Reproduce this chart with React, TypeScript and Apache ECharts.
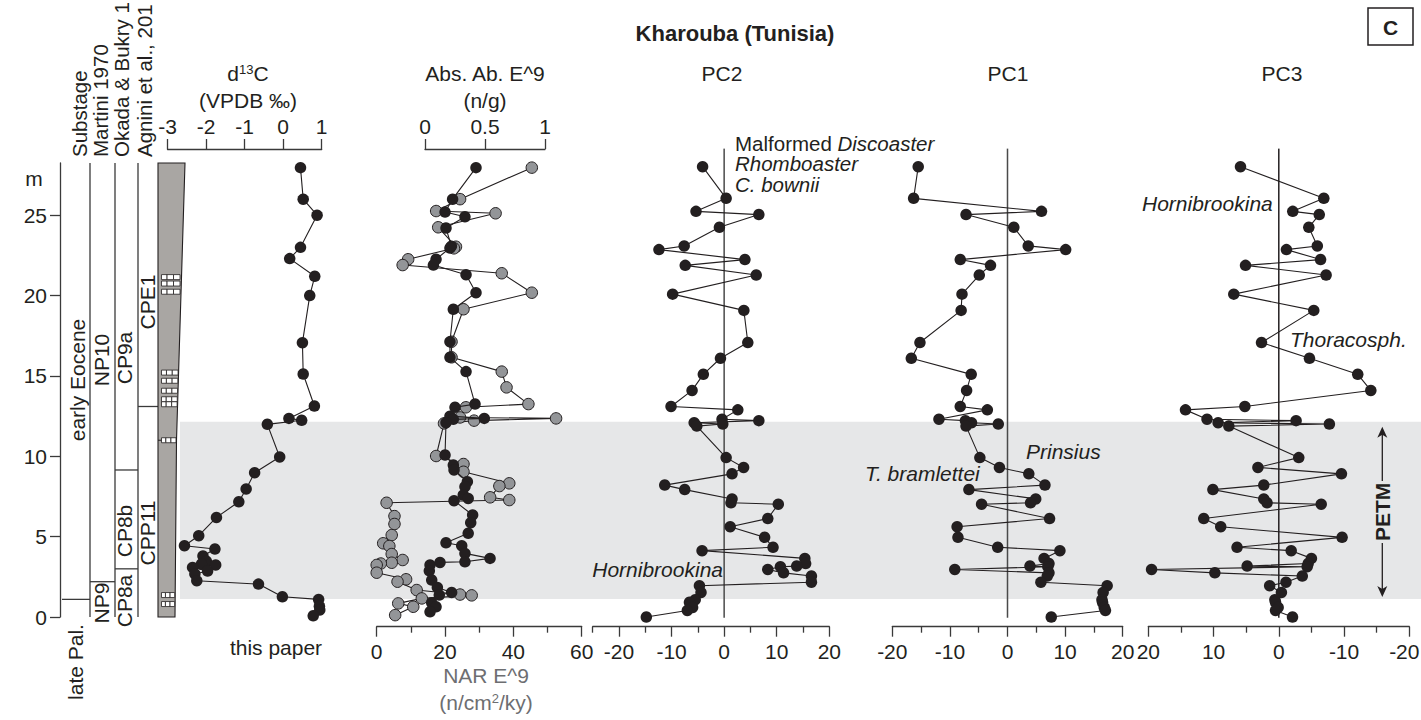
import React, { useEffect, useRef } from 'react';
import * as echarts from 'echarts';

const W = 1421;
const H = 720;
const FONT = "'Liberation Sans', Arial, Helvetica, sans-serif";
const INK = '#231f20';
const AXIS = '#3a3a3a';
const FS = 21;

// ---------- data ----------
const d13cDepth = [27.96, 26.0, 25.0, 23.0, 22.3, 21.2, 20.0, 17.07, 15.12, 13.13, 12.36, 12.24, 11.99, 9.96, 8.98, 7.97, 7.17, 6.2, 5.06, 4.44, 4.23, 3.8, 3.47, 3.3, 3.24, 3.09, 2.86, 2.68, 2.26, 2.05, 1.26, 1.1, 0.68, 0.44, 0.08];
const d13cValue = [0.45, 0.52, 0.88, 0.45, 0.17, 0.82, 0.69, 0.5, 0.52, 0.81, 0.15, 0.48, -0.41, -0.09, -0.74, -0.96, -1.15, -1.73, -2.19, -2.56, -1.77, -2.08, -1.99, -2.12, -1.75, -2.35, -1.96, -2.29, -2.24, -0.64, -0.02, 0.92, 0.94, 0.95, 0.78];

const narDepth = [27.96, 26.0, 25.26, 25.12, 24.25, 23.04, 22.94, 22.26, 21.9, 21.39, 20.18, 19.15, 17.13, 16.16, 15.27, 14.29, 13.25, 13.05, 12.42, 12.36, 12.22, 12.05, 10.02, 9.52, 9.04, 8.32, 8.15, 7.45, 7.28, 7.11, 6.28, 5.79, 5.1, 4.59, 4.42, 3.92, 3.55, 3.38, 3.33, 3.24, 2.76, 2.35, 2.2, 1.68, 1.4, 1.35, 1.16, 0.85, 0.64, 0.12];
const narValue = [45.4, 24.4, 17.4, 34.8, 18.0, 23.2, 22.6, 9.2, 7.6, 36.6, 45.4, 25.4, 21.9, 21.9, 36.6, 38.0, 44.4, 26.1, 24.4, 52.5, 28.5, 19.7, 17.4, 25.4, 25.4, 38.8, 35.9, 33.2, 38.8, 2.9, 5.2, 5.2, 4.4, 1.9, 3.7, 4.4, 7.6, 4.4, 1.2, 0, 0, 8.6, 6.1, 11.7, 24.4, 27.8, 13.2, 6.3, 10.7, 5.4];

const absDepth = [27.96, 26.0, 25.2, 24.9, 24.2, 23.07, 22.96, 22.26, 21.9, 21.3, 20.18, 19.15, 17.13, 16.16, 15.27, 13.25, 13.05, 12.5, 12.36, 12.3, 12.09, 10.08, 9.46, 9.15, 8.42, 8.11, 7.6, 7.38, 7.24, 6.35, 5.87, 5.21, 4.62, 4.44, 3.96, 3.65, 3.44, 3.4, 3.24, 2.88, 2.3, 1.84, 1.53, 1.37, 0.89, 0.64, 0.33];
const absValue = [0.425, 0.23, 0.167, 0.333, 0.175, 0.22, 0.208, 0.092, 0.07, 0.342, 0.425, 0.236, 0.208, 0.208, 0.342, 0.417, 0.25, 0.208, 0.494, 0.236, 0.175, 0.167, 0.236, 0.242, 0.353, 0.333, 0.319, 0.36, 0.242, 0.397, 0.381, 0.36, 0.175, 0.306, 0.333, 0.542, 0.333, 0.125, 0.042, 0.036, 0.056, 0.103, 0.222, 0.119, 0.056, 0.092, 0.042];

const pcDepth = [28.02, 26.05, 25.24, 25.04, 24.25, 23.09, 22.86, 22.24, 21.88, 21.28, 20.09, 19.08, 17.08, 16.1, 15.1, 14.1, 13.1, 12.89, 12.31, 12.22, 12.09, 12.01, 11.88, 9.92, 9.31, 8.91, 8.21, 7.93, 7.35, 7.11, 7.02, 6.13, 5.62, 4.96, 4.34, 4.13, 3.65, 3.33, 3.17, 3.13, 2.96, 2.75, 2.55, 2.17, 1.95, 1.53, 1.08, 0.92, 0.6, 0.41, 0.0];
const pc2 = [-4.1, 0.38, -5.35, 6.6, -0.9, -7.6, -12.4, 3.95, -7.4, 6.1, -9.8, 3.75, 4.5, -0.7, -3.96, -6.1, -10.1, 2.6, -0.4, 6.6, -5.7, -0.26, -5.2, 0.38, 3.7, 1.5, -11.3, -7.5, 1.5, 1.3, 10.3, 8.3, 1.15, 7.7, 9.3, -4.2, 15.35, 15.5, 13.8, 10.7, 8.3, 11.3, 16.6, 16.6, -4.7, -4.4, -5.5, -6.6, -6.0, -7.0, -14.8];
const pc1 = [-15.5, -16.3, 5.9, -7.2, 1.1, 3.6, 10.1, -8.2, -2.95, -4.9, -7.9, -8.05, -15.2, -16.7, -6.3, -7.1, -8.2, -3.5, -11.9, -7.3, -6.25, -1.6, -7.2, -4.8, -1.4, 3.7, 6.5, -6.7, 4.9, 4.0, -4.5, 7.3, -8.75, -8.6, -1.7, 9.1, 6.35, 7.2, 3.9, 7.0, -9.15, 7.2, 6.9, 5.8, 17.3, 16.6, 16.4, 16.5, 16.8, 17.0, 7.6];
const pc3 = [5.87, -6.9, -2.14, -6.2, -4.6, -5.9, -1.17, -6.4, 5.1, -7.25, 6.9, -5.36, 2.65, -4.7, -12.1, -14.1, 5.2, 14.3, 11.0, -2.65, 9.3, -7.75, 7.66, -3.06, 3.2, -9.6, 2.3, 10.1, 2.3, 1.8, -6.5, 11.5, 8.9, -9.7, 6.4, -1.9, -5.0, -4.5, 4.85, -4.35, 19.5, 9.8, -3.6, -1.1, 1.4, -0.4, 0.6, 0.5, 0.1, 0.5, -2.1];

const depthTicks = [0, 5, 10, 15, 20, 25];
const pcTicks = [-20, -10, 0, 10, 20];
const pc2MinorTicks = [-25, -15, -5, 5, 15];

// stratigraphy (m)
const sectionTop = 28.25;
const petmTop = 12.15;
const petmBase = 1.12;
const substageBounds = [1.1];
const martiniBounds = [2.2];
const okadaBounds = [3.0, 9.15];
const agniniBounds = [13.1];
const bedDepths = [21.15, 20.75, 20.24, 15.21, 14.7, 14.08, 13.55, 13.24, 11.0, 1.37, 0.81];

// ---------- layout ----------
const DEPTH_MIN = -0.6;
const DEPTH_MAX = 29.12;
const GRID_TOP = 149;
const GRID_BOTTOM_Y = 626.7;
const GRID_H = GRID_BOTTOM_Y - GRID_TOP;
const yOf = (d: number) => GRID_TOP + ((DEPTH_MAX - d) / (DEPTH_MAX - DEPTH_MIN)) * GRID_H;

const zip = (xs: number[], ys: number[]) => xs.map((x, i) => [x, ys[i]]);

const lineStyle = { color: AXIS, width: 1.3 };
const labelBase = { color: INK, fontSize: FS, fontFamily: FONT };

function grid(left: number, width: number, top = GRID_TOP, height = GRID_H) {
  return { left, width, top, height, containLabel: false, outerBoundsMode: 'none' };
}

function dataSeries(xi: number, yi: number, data: number[][], gray = false) {
  return {
    type: 'line',
    xAxisIndex: xi,
    yAxisIndex: yi,
    data,
    symbol: 'circle',
    symbolSize: 11.5,
    clip: false,
    silent: true,
    z: gray ? 3 : 4,
    lineStyle: { color: INK, width: 1.1 },
    itemStyle: gray ? { color: '#939598', borderColor: INK, borderWidth: 1 } : { color: INK },
    emphasis: { disabled: true },
  };
}

function zeroLine(xi: number, yi: number, color = '#4a4a4a') {
  return {
    type: 'line',
    xAxisIndex: xi,
    yAxisIndex: yi,
    data: [[0, -0.05], [0, 29.15]],
    symbol: 'none',
    silent: true,
    z: 2,
    lineStyle: { color, width: 1.5 },
  };
}

function text(x: number, y: number, t: string, extra: any = {}, rotation = 0) {
  return {
    type: 'text',
    x,
    y,
    rotation,
    silent: true,
    z: 20,
    style: {
      text: t,
      fontFamily: FONT,
      fontSize: FS,
      fill: INK,
      align: 'center',
      verticalAlign: 'middle',
      ...extra,
    },
  };
}

const richBase = {
  n: { fontFamily: FONT, fontSize: FS, fill: INK, color: INK },
  i: { fontFamily: FONT, fontSize: FS, fontStyle: 'italic', fill: INK, color: INK },
  s: { fontFamily: FONT, fontSize: 13, verticalAlign: 'top', fill: INK, color: INK },
};
const richNote = {
  n: { fontFamily: FONT, fontSize: 20.5, fill: INK, color: INK },
  i: { fontFamily: FONT, fontSize: 20.5, fontStyle: 'italic', fill: INK, color: INK },
};

function buildGraphic() {
  const g: any[] = [];
  // PETM band
  g.push({
    type: 'rect',
    z: -10,
    silent: true,
    shape: { x: 180, y: yOf(petmTop), width: W - 180, height: yOf(petmBase) - yOf(petmTop) },
    style: { fill: '#e6e7e8' },
  });

  const yTop = yOf(sectionTop);
  const y0 = yOf(0);
  // column dividers
  [90, 115, 138].forEach((x) =>
    g.push({ type: 'line', silent: true, z: 5, shape: { x1: x, y1: yTop, x2: x, y2: y0 }, style: { stroke: AXIS, lineWidth: 1.3 } })
  );
  const hLine = (x1: number, x2: number, d: number) =>
    g.push({ type: 'line', silent: true, z: 5, shape: { x1, y1: yOf(d), x2, y2: yOf(d) }, style: { stroke: AXIS, lineWidth: 1.3 } });
  substageBounds.forEach((d) => hLine(62, 90, d));
  martiniBounds.forEach((d) => hLine(90, 115, d));
  okadaBounds.forEach((d) => hLine(115, 138, d));
  agniniBounds.forEach((d) => hLine(138, 158, d));

  // lithology column
  const rightAt = (d: number) => (d >= 11 ? 176.5 + ((d - 11) / (sectionTop - 11)) * (185 - 176.5) : 175 + (d / 11) * 1.5);
  g.push({
    type: 'polygon',
    silent: true,
    z: 5,
    shape: { points: [[158, yTop], [185, yTop], [rightAt(11), yOf(11)], [175, y0], [158, y0]] },
    style: { fill: '#a9a6a3', stroke: INK, lineWidth: 1.1 },
  });
  g.push({ type: 'line', silent: true, z: 6, shape: { x1: 158, y1: yOf(11), x2: rightAt(11), y2: yOf(11) }, style: { stroke: INK, lineWidth: 1 } });
  bedDepths.forEach((d) => {
    const x1 = 161.5;
    const x2 = Math.min(rightAt(d) - 0.5, 180);
    const w = x2 - x1;
    const yy = yOf(d) - 2.5;
    const cuts = [0, 0.3, 0.65, 1];
    for (let k = 0; k < 3; k++) {
      g.push({
        type: 'rect',
        silent: true,
        z: 7,
        shape: { x: x1 + cuts[k] * w, y: yy, width: (cuts[k + 1] - cuts[k]) * w, height: 5 },
        style: { fill: '#ffffff', stroke: INK, lineWidth: 0.8 },
      });
    }
  });

  // column headers (vertical, as far as they are visible)
  const R = Math.PI / 2;
  g.push(text(79, 157, 'Substage', { align: 'left', fontSize: 20.5 }, R));
  g.push(text(100.5, 157, 'Martini 1970', { align: 'left', fontSize: 20.5 }, R));
  g.push(text(121.5, 157, 'Okada & Bukry 1', { align: 'left', fontSize: 20.5 }, R));
  g.push(text(144, 157, 'Agnini et al., 201', { align: 'left', fontSize: 20.5 }, R));
  // zone labels
  g.push(text(77, 380, 'early Eocene', {}, R));
  g.push(text(101, 360, 'NP10', {}, R));
  g.push(text(124, 358, 'CP9a', {}, R));
  g.push(text(147, 302, 'CPE1', {}, R));
  g.push(text(124, 531, 'CP8b', {}, R));
  g.push(text(147, 533, 'CPP11', {}, R));
  g.push(text(101, 603, 'NP9', {}, R));
  g.push(text(124, 601, 'CP8a', {}, R));
  g.push(text(75, 662, 'late Pal.', {}, R));
  g.push(text(34, 178, 'm'));

  // panel titles
  g.push(text(735, 33, 'Kharouba (Tunisia)', { fontWeight: 'bold', fontSize: 22 }));
  g.push({ type: 'rect', silent: true, z: 20, shape: { x: 1368, y: 8, width: 45, height: 37 }, style: { fill: '#fff', stroke: INK, lineWidth: 1.5 } });
  g.push(text(1390.5, 27, 'C', { fontWeight: 'bold', fontSize: 21 }));
  g.push(text(248, 73, '{n|d}{s|13}{n|C}', { rich: richBase }));
  g.push(text(248, 100, '(VPDB ‰)'));
  g.push(text(485, 73, 'Abs. Ab. E^9'));
  g.push(text(485, 100, '(n/g)'));
  g.push(text(722, 73, 'PC2'));
  g.push(text(1008, 73, 'PC1'));
  g.push(text(1282, 73, 'PC3'));
  const grayRich = {
    n: { fontFamily: FONT, fontSize: FS, fill: '#6d6e71', color: '#6d6e71' },
    s: { fontFamily: FONT, fontSize: 13, verticalAlign: 'top', fill: '#6d6e71', color: '#6d6e71' },
  };
  g.push(text(486, 675, 'NAR E^9', { fill: '#6d6e71' }));
  g.push(text(486, 702, '{n|(n/cm}{s|2}{n|/ky)}', { rich: grayRich }));
  g.push(text(276, 647, 'this paper'));

  // annotations
  g.push(text(735, 143, '{n|Malformed }{i|Discoaster}', { align: 'left', rich: richNote }));
  g.push(text(735, 163.75, 'Rhomboaster', { align: 'left', fontStyle: 'italic', fontSize: 20.5 }));
  g.push(text(735, 184.5, 'C. bownii', { align: 'left', fontStyle: 'italic', fontSize: 20.5 }));
  g.push(text(723, 569, 'Hornibrookina', { align: 'right', fontStyle: 'italic' }));
  g.push(text(865, 473, 'T. bramlettei', { align: 'left', fontStyle: 'italic' }));
  g.push(text(1026, 451, 'Prinsius', { align: 'left', fontStyle: 'italic' }));
  g.push(text(1142, 203, 'Hornibrookina', { align: 'left', fontStyle: 'italic' }));
  g.push(text(1290, 339, 'Thoracosph.', { align: 'left', fontStyle: 'italic' }));

  // PETM arrow
  const ax = 1382.3;
  const aTop = yOf(petmTop) + 5;
  const aBot = yOf(petmBase) - 2;
  const mid = (aTop + aBot) / 2;
  g.push({ type: 'line', silent: true, z: 20, shape: { x1: ax, y1: aTop + 4, x2: ax, y2: mid - 31 }, style: { stroke: INK, lineWidth: 1.3 } });
  g.push({ type: 'line', silent: true, z: 20, shape: { x1: ax, y1: mid + 31, x2: ax, y2: aBot - 4 }, style: { stroke: INK, lineWidth: 1.3 } });
  g.push({ type: 'polygon', silent: true, z: 20, shape: { points: [[ax, aTop], [ax - 5, aTop + 11], [ax, aTop + 8], [ax + 5, aTop + 11]] }, style: { fill: INK } });
  g.push({ type: 'polygon', silent: true, z: 20, shape: { points: [[ax, aBot], [ax - 5, aBot - 11], [ax, aBot - 8], [ax + 5, aBot - 11]] }, style: { fill: INK } });
  g.push(text(ax, mid, 'PETM', { fontWeight: 'bold' }, R));
  return g;
}

function buildOption() {
  const commonX = {
    type: 'value',
    splitLine: { show: false },
    axisLine: { show: true, onZero: false, lineStyle },
    axisTick: { show: true, length: 10, lineStyle },
    axisLabel: { ...labelBase, margin: 14 },
  };
  const hiddenY = (gi: number) => ({ gridIndex: gi, type: 'value', min: DEPTH_MIN, max: DEPTH_MAX, show: false, axisLine: { onZero: false } });
  return {
    animation: false,
    backgroundColor: '#ffffff',
    grid: [
      grid(60, 10, yOf(sectionTop), yOf(0) - yOf(sectionTop)), // 0 depth axis
      grid(167.5, 154.2), // 1 d13C
      grid(376.7, 205), // 2 NAR
      grid(425, 120), // 3 Abs
      grid(592.7, 236.6), // 4 PC2
      grid(892.3, 230.4), // 5 PC1
      grid(1148.3, 261), // 6 PC3
      grid(592.7, 236.6), // 7 PC2 minor ticks
    ],
    xAxis: [
      { gridIndex: 0, type: 'value', show: false, min: 0, max: 1, axisLine: { onZero: false } },
      { ...commonX, gridIndex: 1, position: 'top', min: -3, max: 1, interval: 1, axisLabel: { ...labelBase, margin: 12 } },
      {
        ...commonX,
        gridIndex: 2,
        position: 'bottom',
        min: 0,
        max: 60,
        interval: 20,
        minorTick: { show: true, splitNumber: 2, length: 6, lineStyle },
      },
      { ...commonX, gridIndex: 3, position: 'top', min: 0, max: 1, interval: 0.5, axisLabel: { ...labelBase, margin: 12 } },
      {
        ...commonX,
        gridIndex: 4,
        position: 'bottom',
        min: -25,
        max: 20,
        axisTick: { show: true, length: 10, lineStyle, customValues: pcTicks },
        axisLabel: { ...labelBase, margin: 14, customValues: pcTicks },
      },
      {
        ...commonX,
        gridIndex: 5,
        position: 'bottom',
        min: -20,
        max: 20,
        interval: 10,
        minorTick: { show: true, splitNumber: 2, length: 6, lineStyle },
      },
      {
        ...commonX,
        gridIndex: 6,
        position: 'bottom',
        min: -20,
        max: 20,
        interval: 10,
        inverse: true,
        minorTick: { show: true, splitNumber: 2, length: 6, lineStyle },
        axisLabel: {
          ...labelBase,
          margin: 14,
          formatter: (v: number) => (v === -20 ? '{r|-20}' : String(v)),
          rich: { r: { ...labelBase, padding: [0, 10, 0, 0] } },
        },
      },
      {
        ...commonX,
        gridIndex: 7,
        position: 'bottom',
        min: -25,
        max: 20,
        axisLine: { show: false, onZero: false },
        axisTick: { show: true, length: 6, lineStyle, customValues: pc2MinorTicks },
        axisLabel: { show: false },
      },
    ],
    yAxis: [
      {
        gridIndex: 0,
        type: 'value',
        position: 'left',
        min: 0,
        max: sectionTop,
        splitLine: { show: false },
        axisLine: { show: true, onZero: false, lineStyle },
        axisTick: { show: true, length: 10, lineStyle, customValues: depthTicks },
        axisLabel: { ...labelBase, margin: 13, customValues: depthTicks },
      },
      hiddenY(1),
      hiddenY(2),
      hiddenY(3),
      hiddenY(4),
      hiddenY(5),
      hiddenY(6),
      hiddenY(7),
    ],
    series: [
      dataSeries(1, 1, zip(d13cValue, d13cDepth)),
      dataSeries(2, 2, zip(narValue, narDepth), true),
      dataSeries(3, 3, zip(absValue, absDepth)),
      zeroLine(4, 4),
      dataSeries(4, 4, zip(pc2, pcDepth)),
      zeroLine(5, 5),
      dataSeries(5, 5, zip(pc1, pcDepth)),
      zeroLine(6, 6, '#231f20'),
      dataSeries(6, 6, zip(pc3, pcDepth)),
    ],
    graphic: buildGraphic(),
  };
}

export default function App() {
  const ref = useRef<HTMLDivElement>(null);
  useEffect(() => {
    if (!ref.current) return;
    const chart = echarts.init(ref.current, undefined, { renderer: 'svg', width: W, height: H });
    chart.setOption(buildOption() as any);
    return () => chart.dispose();
  }, []);
  return (
    <div
      ref={ref}
      style={{ position: 'absolute', left: 0, top: 0, width: W, height: H, background: '#ffffff', overflow: 'hidden' }}
    />
  );
}
